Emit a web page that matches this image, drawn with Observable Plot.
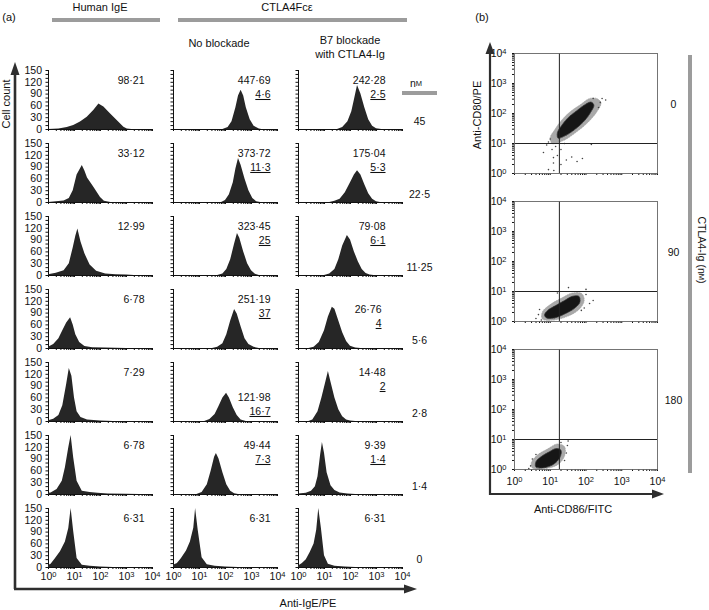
<!DOCTYPE html>
<html><head><meta charset="utf-8">
<script src="https://cdn.jsdelivr.net/npm/d3@7"></script>
<script src="https://cdn.jsdelivr.net/npm/@observablehq/plot@0.6"></script>
<style>
body{margin:0;background:#fff;}
#fig{position:relative;width:709px;height:610px;font-family:"Liberation Sans",Arial,Helvetica,sans-serif;}
#fig svg{position:absolute;}
</style></head><body><div id="fig"></div>
<script>
// ---------------- DATA ----------------
const concentrations = ["45","22·5","11·25","5·6","2·8","1·4","0"];   // CTLA4Fcε, nM
const treatments = ["Human IgE","No blockade","B7 blockade"];
const mfiValues = [
  ["98·21","447·69","242·28"],
  ["33·12","373·72","175·04"],
  ["12·99","323·45","79·08"],
  ["6·78","251·19","26·76"],
  ["7·29","121·98","14·48"],
  ["6·78","49·44","9·39"],
  ["6·31","6·31","6·31"]];
const pctValues = [
  ["","4·6","2·5"],
  ["","11·3","5·3"],
  ["","25","6·1"],
  ["","37","4"],
  ["","16·7","2"],
  ["","7·3","1·4"],
  ["","",""]];
// histogram outlines: [log10 fluorescence, cell count]
const histR1C1 = [[0,0],[0.4,1],[0.72,5],[0.97,10],[1.23,19],[1.49,31],[1.74,48],[1.94,65],[2.0,62],[2.13,57],[2.38,40],[2.64,23],[2.9,6],[3.03,1],[3.2,0],[4,0]];
const histR1C2 = [[1.9,0],[2.1,5],[2.25,20],[2.4,55],[2.5,85],[2.6,100],[2.7,85],[2.8,55],[2.95,25],[3.1,8],[3.3,1],[3.4,0]];
const histR1C3 = [[1.5,0],[1.7,5],[1.9,20],[2.05,45],[2.15,75],[2.27,112],[2.4,90],[2.55,55],[2.7,25],[2.85,8],[3.0,2],[3.2,0]];
const histR2C1 = [[0,0],[0.3,2],[0.6,4],[0.8,10],[0.95,30],[1.1,70],[1.3,94],[1.4,80],[1.5,62],[1.75,38],[2.0,13],[2.15,3],[2.4,0]];
const histR2C2 = [[1.85,0],[2.0,5],[2.15,20],[2.3,50],[2.4,85],[2.5,112],[2.6,95],[2.75,60],[2.9,30],[3.05,10],[3.2,2],[3.35,0]];
const histR2C3 = [[1.2,0],[1.4,3],[1.6,8],[1.8,25],[2.0,50],[2.15,70],[2.27,81],[2.4,70],[2.55,45],[2.7,22],[2.85,8],[3.0,2],[3.15,0]];
const histR3C1 = [[0,2],[0.3,6],[0.6,12],[0.8,30],[0.95,70],[1.05,100],[1.13,118],[1.25,85],[1.4,55],[1.6,27],[1.85,11],[2.2,4],[2.6,2],[3.0,1],[3.3,0]];
const histR3C2 = [[1.7,0],[1.9,4],[2.05,15],[2.2,40],[2.35,80],[2.46,107],[2.55,95],[2.7,60],[2.85,30],[3.0,12],[3.15,3],[3.3,0]];
const histR3C3 = [[1.0,0],[1.2,4],[1.4,15],[1.55,40],[1.7,75],[1.88,102],[2.0,90],[2.15,60],[2.3,35],[2.45,15],[2.6,5],[2.75,1],[2.9,0]];
const histR4C1 = [[0,3],[0.2,10],[0.4,25],[0.55,45],[0.7,65],[0.85,78],[0.95,60],[1.05,35],[1.2,15],[1.4,5],[1.7,2],[2.2,1],[3,0]];
const histR4C2 = [[1.5,0],[1.7,3],[1.9,12],[2.05,35],[2.2,70],[2.35,99],[2.45,88],[2.6,55],[2.75,25],[2.9,10],[3.1,3],[3.3,0]];
const histR4C3 = [[0.4,0],[0.6,3],[0.8,15],[1.0,45],[1.15,80],[1.3,105],[1.4,100],[1.55,70],[1.7,40],[1.85,18],[2.0,6],[2.2,1],[2.4,0]];
const histR5C1 = [[0,2],[0.2,6],[0.4,15],[0.55,40],[0.7,95],[0.8,135],[0.9,115],[1.0,60],[1.1,25],[1.25,10],[1.5,4],[2,1],[2.5,0]];
const histR5C2 = [[1.2,0],[1.4,5],[1.6,18],[1.75,38],[1.9,60],[2.04,72],[2.15,60],[2.3,35],[2.45,15],[2.6,4],[2.8,0]];
const histR5C3 = [[0.4,0],[0.55,4],[0.75,25],[0.9,60],[1.05,100],[1.15,127],[1.25,100],[1.4,60],[1.55,30],[1.7,12],[1.85,4],[2.0,1],[2.2,0]];
const histR6C1 = [[0,3],[0.1,4],[0.33,13],[0.53,34],[0.65,68],[0.78,119],[0.87,150],[0.97,93],[1.1,34],[1.3,8],[1.6,5],[1.9,3],[2.3,1],[3,0.5],[3.5,0]];
const histR6C2 = [[0.9,0],[1.1,5],[1.3,25],[1.45,60],[1.58,95],[1.65,104],[1.75,90],[1.9,55],[2.05,25],[2.2,8],[2.35,2],[2.5,0]];
const histR6C3 = [[0,1],[0.3,3],[0.5,8],[0.65,20],[0.75,45],[0.85,100],[0.92,132],[1.0,105],[1.1,55],[1.25,22],[1.4,10],[1.6,4],[1.9,1],[2.2,0]];
const histR7C1 = [[0,5],[0.1,8],[0.27,23],[0.46,40],[0.65,65],[0.78,99],[0.87,150],[0.97,91],[1.1,23],[1.3,6],[1.6,3],[2,1],[2.5,0]];
const histR7C2 = [[0,6],[0.15,10],[0.3,22],[0.5,42],[0.65,65],[0.78,100],[0.85,150],[0.95,95],[1.1,25],[1.3,7],[1.6,3],[2,1],[2.5,0]];
const histR7C3 = [[0,4],[0.15,10],[0.3,20],[0.45,38],[0.6,60],[0.7,95],[0.78,150],[0.88,100],[1.0,30],[1.15,8],[1.4,3],[1.8,1],[2.2,0]];
const histograms = [
  [histR1C1,histR1C2,histR1C3],[histR2C1,histR2C2,histR2C3],[histR3C1,histR3C2,histR3C3],
  [histR4C1,histR4C2,histR4C3],[histR5C1,histR5C2,histR5C3],[histR6C1,histR6C2,histR6C3],
  [histR7C1,histR7C2,histR7C3]];
const countTicks = [0,30,60,90,120,150];
const decadeTicks = [0,1,2,3,4];
const decadeLabels = ["10⁰","10¹","10²","10³","10⁴"];

// panel (b): CTLA4-Ig doses (nM), dot-plot cluster outlines [log10 CD86, log10 CD80]
const igDoses = ["0","90","180"];
const gateCD86 = 18, gateCD80 = 10;
const haloD0 = [[1.05,1.0],[1.4,1.12],[1.75,1.4],[2.05,1.7],[2.3,2.05],[2.42,2.35],[2.3,2.5],[2.1,2.5],[1.85,2.3],[1.55,2.05],[1.3,1.75],[1.12,1.45],[1.0,1.2]];
const coreD0 = [[1.22,1.18],[1.45,1.28],[1.7,1.48],[1.95,1.75],[2.12,2.02],[2.22,2.28],[2.14,2.38],[1.98,2.3],[1.75,2.1],[1.5,1.86],[1.32,1.6],[1.2,1.36]];
const haloD90 = [[0.78,0.08],[1.1,0.05],[1.5,0.18],[1.82,0.42],[1.95,0.7],[1.88,0.93],[1.62,0.95],[1.32,0.78],[1.02,0.58],[0.78,0.32]];
const coreD90 = [[0.9,0.12],[1.12,0.12],[1.4,0.25],[1.68,0.44],[1.83,0.65],[1.8,0.84],[1.62,0.84],[1.4,0.7],[1.15,0.53],[0.94,0.38],[0.84,0.22]];
const haloD180 = [[0.5,0.05],[0.9,0.04],[1.22,0.17],[1.4,0.45],[1.4,0.76],[1.2,0.85],[0.92,0.68],[0.64,0.48],[0.47,0.22]];
const coreD180 = [[0.6,0.08],[0.87,0.07],[1.1,0.18],[1.27,0.4],[1.3,0.64],[1.17,0.7],[0.96,0.58],[0.76,0.44],[0.6,0.26]];
const strayD0 = [[1.3,0.3],[1.45,0.45],[1.6,0.55],[1.75,0.4],[1.9,0.5],[1.1,0.1],[1.09,0.35],[1.09,0.53],[0.95,0.13],[0.81,0.7],[0.9,0.95],[1.0,1.15],[2.4,2.37],[2.2,2.5],[2.15,0.97],[1.05,0.8],[2.35,2.2],[1.4,1.0],[1.3,0.8],[2.55,2.45],[1.2,0.6],[0.95,1.05],[2.45,2.5],[1.15,0.9]];
const strayD90 = [[1.51,1.13],[2.0,1.07],[2.2,0.7],[0.67,0.23],[1.87,0.37],[0.75,0.05],[2.0,0.9],[1.2,0.95],[0.6,0.1],[1.95,0.45],[2.1,0.6],[0.7,0.4]];
const strayD180 = [[1.48,0.8],[1.45,0.55],[0.45,0.12],[1.4,0.3],[0.6,0.5],[1.3,0.9],[0.4,0.03],[1.5,0.95],[0.5,0.35]];
const clusters = [[haloD0, coreD0, strayD0],[haloD90, coreD90, strayD90],[haloD180, coreD180, strayD180]];

// ---------------- LAYOUT ----------------
const FONT = '"Liberation Sans", Arial, Helvetica, sans-serif';
const fig = document.getElementById("fig");
const minorLog = [];
for (let k = 0; k < 4; k++) for (let m = 2; m <= 9; m++) minorLog.push(k + Math.log10(m));
const logTicks = decadeTicks.concat(minorLog);
const countAll = d3.range(0, 151, 10);
const fmtDecade = d => Number.isInteger(d) ? decadeLabels[d] : "";
const fmtCount = d => countTicks.includes(d) ? String(d) : "";
const colLeft = [48, 173, 298];                       // pixel left of each histogram column
const rowTop = [70, 143, 216, 289, 362, 435, 508];     // pixel top (count 150) of each row
const HW = 104, HH = 59;
const ML = 34, MR = 34, MT = 2, MB = 20;
const colDx = [-8, -7, -17];
const labelShift = {"3|2": {dx: -4, dy: 10}, "4|1": {dx: 0, dy: 25}};
const PCT_FILL = "#0f0f0f";

// render "10⁴"-style tick labels as 10 with a raised exponent
function superscriptTicks(svg) {
  d3.select(svg).selectAll("text").each(function() {
    const s = this.textContent;
    const i = decadeLabels.indexOf(s);
    if (i < 0) return;
    const t = d3.select(this);
    t.text("10");
    t.append("tspan").attr("dy", "-0.45em").attr("font-size", "7.5px").text(String(decadeTicks[i]));
  });
}

function place(svg, left, top) {
  svg.style.left = left + "px";
  svg.style.top = top + "px";
  fig.appendChild(svg);
}

for (let r = 0; r < concentrations.length; r++) {
  for (let c = 0; c < treatments.length; c++) {
    const pts = histograms[r][c].map(([v, n]) => ({v, n}));
    const lab = [{mfi: mfiValues[r][c], pct: pctValues[r][c]}];
    const sh = labelShift[r + "|" + c] || {dx: 0, dy: 0};
    const marks = [
      Plot.areaY(pts, {x: "v", y: "n", fill: "#262626", curve: "linear"}),
      Plot.text(lab, {text: "mfi", frameAnchor: "top-right", textAnchor: "end", dx: colDx[c] + sh.dx, dy: 6 + sh.dy, fontSize: 10.5, fill: "#111"}),
      Plot.text(lab, {text: "pct", frameAnchor: "top-right", textAnchor: "end", dx: colDx[c] + sh.dx, dy: 20 + sh.dy, fontSize: 10.5, fill: PCT_FILL})
    ];
    if (c === 2) marks.push(Plot.text([concentrations[r]], {text: d => d, frameAnchor: "top-right", textAnchor: "middle", dx: 17, dy: 47, fontSize: 10.5, fill: "#111"}));
    const chart = Plot.plot({
      width: ML + HW + MR, height: MT + HH + MB,
      marginLeft: ML, marginRight: MR, marginTop: MT, marginBottom: MB,
      style: {background: "transparent", fontFamily: FONT, fontSize: "10.5px", color: "#111", overflow: "visible"},
      x: {domain: [0, 4], ticks: logTicks, tickFormat: r === 6 ? fmtDecade : () => "", tickSize: 2, tickPadding: 3.5, label: null, line: true},
      y: {domain: [0, 150], ticks: countAll, tickFormat: c === 0 ? fmtCount : () => "", tickSize: 2.5, tickPadding: 4, label: null, line: true},
      marks
    });
    d3.select(chart).selectAll(`g[fill="${PCT_FILL}"] text`).style("text-decoration", "underline");
    d3.select(chart).selectAll('g[aria-label="x-axis"] .domain').attr("stroke", "#777");
    superscriptTicks(chart);
    place(chart, colLeft[c] - ML, rowTop[r] - MT);
  }
}

// panel (b)
const bLeft = 514, bTop = [53, 201, 349], BW = 143, BH = 120;
const bML = 40, bMR = 34, bMT = 4, bMB = 26;
igDoses.forEach((dose, i) => {
  const [halo, core, stray] = clusters[i].map(a => a.map(([x, y]) => ({x, y})));
  const chart = Plot.plot({
    width: bML + BW + bMR, height: bMT + BH + bMB,
    marginLeft: bML, marginRight: bMR, marginTop: bMT, marginBottom: bMB,
    style: {background: "transparent", fontFamily: FONT, fontSize: "10.5px", color: "#111", overflow: "visible"},
    x: {domain: [0, 4], ticks: logTicks, tickFormat: i === 2 ? fmtDecade : () => "", tickSize: 2, tickPadding: 6, label: null},
    y: {domain: [0, 4], ticks: logTicks, tickFormat: fmtDecade, tickSize: 2, tickPadding: 6, label: null},
    marks: [
      Plot.line(halo, {x: "x", y: "y", fill: "#8c8c8c", fillOpacity: 0.75, stroke: "#9a9a9a", strokeWidth: 0.6, strokeDasharray: "1,1.5", curve: "catmull-rom-closed"}),
      Plot.line(core, {x: "x", y: "y", fill: "#161616", stroke: "#333", strokeWidth: 0.8, strokeDasharray: "1,1", curve: "catmull-rom-closed"}),
      Plot.dot(stray, {x: "x", y: "y", r: 0.8, fill: "#444", stroke: null}),
      Plot.ruleX([Math.log10(gateCD86)], {stroke: "#222", strokeWidth: 1}),
      Plot.ruleY([Math.log10(gateCD80)], {stroke: "#222", strokeWidth: 1}),
      Plot.frame({stroke: "#666", strokeWidth: 0.9}),
      Plot.text([dose], {text: d => d, frameAnchor: "top-right", textAnchor: "middle", dx: 16, dy: 47, fontSize: 10.5, fill: "#111"})
    ]
  });
  superscriptTicks(chart);
  place(chart, bLeft - bML, bTop[i] - bMT);
});

// ---------------- DECORATIONS (titles, arrows, bars) ----------------
const ov = d3.select(fig).append("svg").attr("width", 709).attr("height", 610)
  .style("left", "0px").style("top", "0px").style("font-family", FONT).style("pointer-events", "none");
const T = (x, y, s, size = 11, anchor = "middle", rot = 0) =>
  ov.append("text").attr("text-anchor", anchor).attr("dominant-baseline", "central")
    .attr("font-size", size).attr("fill", "#111")
    .attr("transform", `translate(${x},${y}) rotate(${rot})`).text(s);
const bar = (x1, y1, x2, y2) => ov.append("line").attr("x1", x1).attr("y1", y1).attr("x2", x2).attr("y2", y2)
  .attr("stroke", "#9c9c9c").attr("stroke-width", 4);
const arrowLine = (x1, y1, x2, y2, w) => ov.append("line").attr("x1", x1).attr("y1", y1).attr("x2", x2).attr("y2", y2)
  .attr("stroke", "#2e2e2e").attr("stroke-width", w);
const head = pts => ov.append("polygon").attr("points", pts.map(p => p.join(",")).join(" ")).attr("fill", "#2e2e2e");

T(9, 17, "(a)", 11);
T(100, 7, "Human IgE", 11);
bar(52, 20, 160, 20);
T(287, 7, "CTLA4Fcε", 11);
bar(178, 20, 407, 20);
T(219, 43, "No blockade", 11);
T(350, 40, "B7 blockade", 11);
T(350, 54, "with CTLA4-Ig", 11);
const nm = T(416, 83, "n", 10.5);
nm.append("tspan").attr("font-size", 7.5).text("M");
bar(402, 93, 437, 93);
T(6, 104, "Cell count", 11, "middle", -90);
arrowLine(15, 589, 15, 72, 2.6);
head([[15, 62], [10.5, 75], [19.5, 75]]);
arrowLine(14, 589, 406, 589, 2.6);
head([[417, 589], [404, 584.5], [404, 593.5]]);
T(308, 603, "Anti-IgE/PE", 11);

T(482, 17, "(b)", 11);
arrowLine(490, 495, 490, 52, 2.2);
head([[490, 42], [485.5, 54], [494.5, 54]]);
arrowLine(489, 494, 654, 494, 2.2);
head([[664, 494], [652, 489.5], [652, 498.5]]);
T(477, 115, "Anti-CD80/PE", 11, "middle", -90);
T(573, 509, "Anti-CD86/FITC", 11);
bar(690, 55, 690, 473);
const ig = T(702, 250, "CTLA4-Ig (n", 10.5, "middle", 90);
ig.append("tspan").attr("font-size", 7.5).text("M");
ig.append("tspan").text(")");
</script></body></html>
